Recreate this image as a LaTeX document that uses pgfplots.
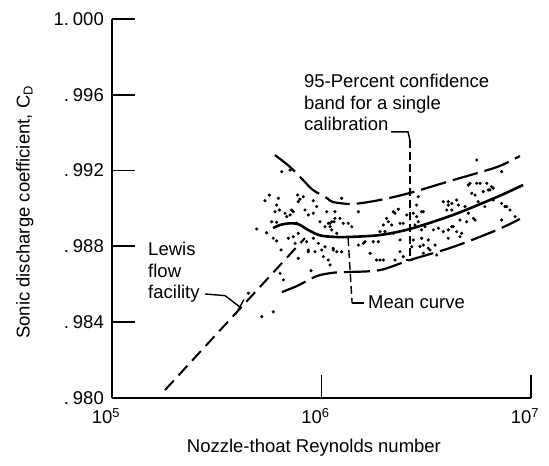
\documentclass[border=0pt]{standalone}
\usepackage{fontspec}
\setmainfont{Liberation Sans}
\usepackage{pgfplots}
\pgfplotsset{compat=1.18}
\usepackage{pgfplotstable}

% x = log10(Reynolds number), y = sonic discharge coefficient
\pgfplotstableread{
lx y
5.769 0.98897
5.802 0.98913
5.840 0.98921
5.888 0.98918
5.936 0.98887
5.993 0.98858
6.064 0.98850
6.136 0.98850
6.279 0.98860
6.422 0.98892
6.628 0.98966
6.838 0.99061
6.962 0.99124
}\meancurve

\pgfplotstableread{
lx y
5.778 0.99282
5.850 0.99219
5.912 0.99150
5.959 0.99098
6.026 0.99055
6.055 0.99034
6.150 0.99024
6.279 0.99045
6.422 0.99082
6.628 0.99150
6.838 0.99219
6.947 0.99277
}\upperband

\pgfplotstableread{
lx y
5.811 0.98559
5.883 0.98591
5.979 0.98644
6.064 0.98662
6.136 0.98665
6.279 0.98675
6.422 0.98728
6.628 0.98797
6.838 0.98887
6.947 0.98945
}\lowerband

\pgfplotstableread{
lx y
5.253 0.98042
5.921 0.98844
}\lewis

\pgfplotstableread{
lx y
5.751 0.99071
5.794 0.99054
5.730 0.99041
5.786 0.99018
5.886 0.99071
5.897 0.99049
5.961 0.99041
5.799 0.98992
5.778 0.98983
5.826 0.98975
5.865 0.98983
5.850 0.98966
5.921 0.98992
5.937 0.98966
5.961 0.98975
5.834 0.98957
5.762 0.98930
5.786 0.98927
5.691 0.98892
5.738 0.98872
5.770 0.98843
5.786 0.98829
5.842 0.98843
5.865 0.98851
5.889 0.98869
5.874 0.98816
5.929 0.98825
5.961 0.98843
5.985 0.98816
5.937 0.98772
5.969 0.98772
6.001 0.98781
6.017 0.98798
6.032 0.98922
6.017 0.98904
6.049 0.98930
5.993 0.98930
6.009 0.98746
6.032 0.98728
5.807 0.98781
5.889 0.98737
5.802 0.98658
5.818 0.98623
5.950 0.98672
5.651 0.98553
5.715 0.98429
5.770 0.98455
6.049 0.98887
6.056 0.98781
5.810 0.99194
5.850 0.99203
6.096 0.99054
6.064 0.98983
6.088 0.98948
6.060 0.98930
6.104 0.98922
6.128 0.98922
6.144 0.98904
6.073 0.98869
6.041 0.98904
6.200 0.98816
6.208 0.98825
6.176 0.98807
6.247 0.98825
6.271 0.98825
6.279 0.98878
6.303 0.98878
6.319 0.98930
6.335 0.98913
6.351 0.98975
6.367 0.98996
6.375 0.98922
6.390 0.98922
6.407 0.98966
6.438 0.98975
6.454 0.98957
6.462 0.98930
6.462 0.99062
6.478 0.98983
6.446 0.98913
6.478 0.98887
6.056 0.98790
6.073 0.98772
6.096 0.98772
6.232 0.98764
6.279 0.98728
6.295 0.98728
6.351 0.98728
6.375 0.98772
6.390 0.98746
6.431 0.98798
6.438 0.98834
6.478 0.98843
6.486 0.98807
6.486 0.98764
6.510 0.98790
6.041 0.98702
6.176 0.98983
6.343 0.98869
6.295 0.98913
6.741 0.99256
6.860 0.99194
6.701 0.99124
6.741 0.99133
6.789 0.99133
6.812 0.99115
6.717 0.99080
6.733 0.99071
6.772 0.99089
6.804 0.99098
6.820 0.99107
6.748 0.99036
6.581 0.99036
6.605 0.99018
6.622 0.99027
6.645 0.99045
6.653 0.99018
6.598 0.98992
6.622 0.98992
6.685 0.99010
6.701 0.98975
6.725 0.98948
6.733 0.98939
6.693 0.98930
6.860 0.99027
6.876 0.99010
6.900 0.98992
6.860 0.98939
6.494 0.98904
6.534 0.98887
6.558 0.98896
6.581 0.98878
6.605 0.98887
6.629 0.98904
6.645 0.98878
6.661 0.98851
6.669 0.98869
6.605 0.98843
6.510 0.98834
6.542 0.98807
6.518 0.98781
6.924 0.98957
6.780 0.99010
6.820 0.99045
6.550 0.98755
6.263 0.98728
6.470 0.98800
6.375 0.98834
6.757 0.99133
6.796 0.99098
6.709 0.99133
6.605 0.99036
6.884 0.99010
6.661 0.98939
6.622 0.98904
6.486 0.98983
6.454 0.99018
6.343 0.98983
6.311 0.98948
5.889 0.99036
5.913 0.99062
5.977 0.99010
6.025 0.98983
6.064 0.98948
5.882 0.98922
5.858 0.98992
6.041 0.98922
5.937 0.98781
}\points

\begin{document}
\fontsize{18.5bp}{21.5bp}\selectfont
\begin{tikzpicture}
\useasboundingbox (0,0) rectangle (549bp,466bp);
\begin{axis}[
  at={(112bp,68bp)}, anchor=south west,
  scale only axis, width=419bp, height=379bp,
  xmin=5, xmax=7, ymin=0.980, ymax=1.000,
  clip=false,
  axis x line*=bottom, axis y line*=left,
  axis line style={-, line width=1.8bp},
  every tick/.style={black, line width=1.8bp},
  tick align=inside, major tick length=23bp,
  xtick={5,6,7},
  xticklabels={10\textsuperscript{5},10\textsuperscript{6},10\textsuperscript{7}},
  ytick={0.980,0.984,0.988,0.992,0.996,1.000},
  yticklabels={.\hspace{4bp}980,.\hspace{4bp}984,.\hspace{4bp}988,.\hspace{4bp}992,.\hspace{4bp}996,1.\hspace{4bp}000},
  xticklabel style={anchor=north, inner sep=0pt, yshift=-10bp, xshift=-6bp},
  yticklabel style={anchor=east, inner sep=0pt, xshift=-8bp},
  xlabel={Nozzle-thoat Reynolds number},
  ylabel={Sonic discharge coefficient, C\textsubscript{D}},
  xlabel style={at={(axis description cs:0.482,-0.132)}, anchor=center},
  ylabel style={at={(axis description cs:-0.208,0.49)}, anchor=center, rotate=0},
]
\addplot[only marks, mark=*, mark size=1.4bp, black] table[x=lx,y=y] {\points};
\addplot[black, line width=2.6bp, smooth] table[x=lx,y=y] {\meancurve};
\addplot[black, line width=2.2bp, smooth, dash pattern=on 26bp off 7bp] table[x=lx,y=y] {\upperband};
\addplot[black, line width=2.2bp, smooth, dash pattern=on 26bp off 7bp] table[x=lx,y=y] {\lowerband};
\addplot[black, line width=2bp, dash pattern=on 13bp off 7bp] table[x=lx,y=y] {\lewis};

% leaders
\draw[black, line width=1.4bp] (axis cs:5.444,0.98549) -- (axis cs:5.540,0.98540) -- (axis cs:5.611,0.98480);
\draw[black, line width=1.4bp] (axis cs:5.590,0.98440) -- (axis cs:5.630,0.98520);
\draw[black, line width=1.4bp, dash pattern=on 8bp off 4bp] (axis cs:6.127,0.98844) -- (axis cs:6.146,0.98501);
\draw[black, line width=1.4bp] (axis cs:6.146,0.98501) -- (axis cs:6.203,0.98501);
\draw[black, line width=1.4bp] (axis cs:6.332,0.99404) -- (axis cs:6.413,0.99404) -- (axis cs:6.422,0.99361);
\draw[black, line width=1.4bp, dash pattern=on 8bp off 4bp] (axis cs:6.422,0.99361) -- (axis cs:6.422,0.98728);
\draw[black, line width=1.4bp] (axis cs:6.405,0.98728) -- (axis cs:6.439,0.98728);

% labels
\node[anchor=north west, align=left, inner sep=0pt] at (axis cs:5.916,0.99710) {95-Percent confidence\\band for a single\\calibration};
\node[anchor=north west, align=left, inner sep=0pt] at (axis cs:5.172,0.98823) {Lewis\\flow\\facility};
\node[anchor=west, inner sep=0pt] at (axis cs:6.222,0.98507) {Mean curve};
\end{axis}
\end{tikzpicture}
\end{document}
